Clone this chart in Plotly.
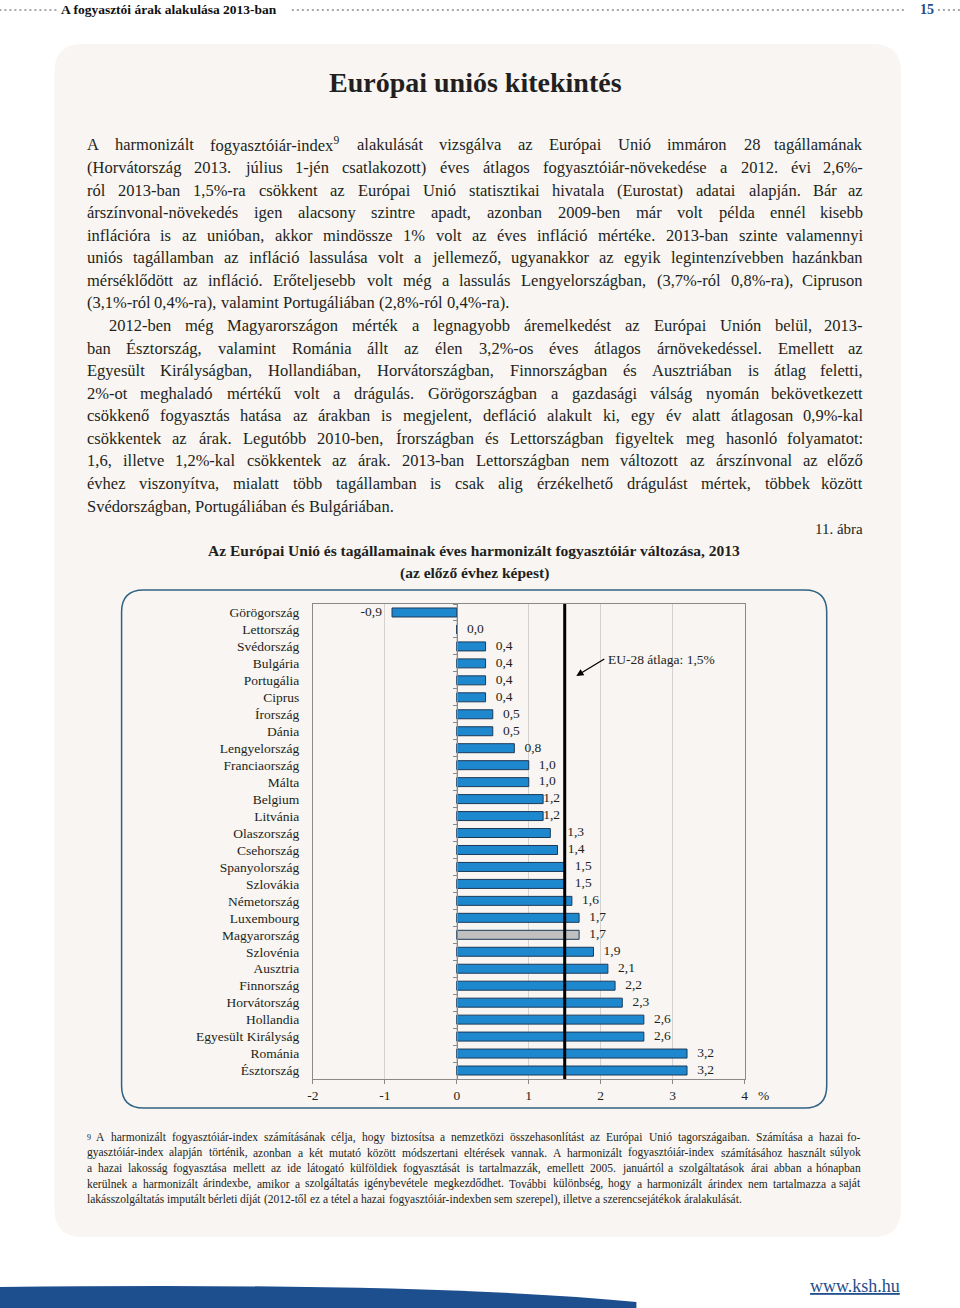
import unicodedata
import plotly.graph_objects as go

W, H = 960, 1308
SERIF = "Liberation Serif"
INK = "#231f20"
BLUE_DARK = "#1f4e8c"

countries = ["Görögország", "Lettország", "Svédország", "Bulgária", "Portugália", "Ciprus",
             "Írország", "Dánia", "Lengyelország", "Franciaország", "Málta", "Belgium",
             "Litvánia", "Olaszország", "Csehország", "Spanyolország", "Szlovákia",
             "Németország", "Luxembourg", "Magyarország", "Szlovénia", "Ausztria",
             "Finnország", "Horvátország", "Hollandia", "Egyesült Királyság", "Románia",
             "Észtország"]
values = [-0.9, 0.0, 0.4, 0.4, 0.4, 0.4, 0.5, 0.5, 0.8, 1.0, 1.0, 1.2, 1.2, 1.3, 1.4,
          1.5, 1.5, 1.6, 1.7, 1.7, 1.9, 2.1, 2.2, 2.3, 2.6, 2.6, 3.2, 3.2]
highlight = "Magyarország"
eu_avg = 1.5
x_ticks = [-2, -1, 0, 1, 2, 3, 4]
x_ticktext = ["-2", "-1", "0", "1", "2", "3", "4"]

body_lines = [
    "A harmonizált fogyasztóiár-index^9 alakulását vizsgálva az Európai Unió immáron 28 tagállamának",
    "(Horvátország 2013. július 1-jén csatlakozott) éves átlagos fogyasztóiár-növekedése a 2012. évi 2,6%-",
    "ról 2013-ban 1,5%-ra csökkent az Európai Unió statisztikai hivatala (Eurostat) adatai alapján. Bár az",
    "árszínvonal-növekedés igen alacsony szintre apadt, azonban 2009-ben már volt példa ennél kisebb",
    "inflációra is az unióban, akkor mindössze 1% volt az éves infláció mértéke. 2013-ban szinte valamennyi",
    "uniós tagállamban az infláció lassulása volt a jellemező, ugyanakkor az egyik legintenzívebben hazánkban",
    "mérséklődött az infláció. Erőteljesebb volt még a lassulás Lengyelországban, (3,7%-ról 0,8%-ra), Cipruson",
    "(3,1%-ról 0,4%-ra), valamint Portugáliában (2,8%-ról 0,4%-ra).",
    "2012-ben még Magyarországon mérték a legnagyobb áremelkedést az Európai Unión belül, 2013-",
    "ban Észtország, valamint Románia állt az élen 3,2%-os éves átlagos árnövekedéssel. Emellett az",
    "Egyesült Királyságban, Hollandiában, Horvátországban, Finnországban és Ausztriában is átlag feletti,",
    "2%-ot meghaladó mértékű volt a drágulás. Görögországban a gazdasági válság nyomán bekövetkezett",
    "csökkenő fogyasztás hatása az árakban is megjelent, defláció alakult ki, egy év alatt átlagosan 0,9%-kal",
    "csökkentek az árak. Legutóbb 2010-ben, Írországban és Lettországban figyeltek meg hasonló folyamatot:",
    "1,6, illetve 1,2%-kal csökkentek az árak. 2013-ban Lettországban nem változott az árszínvonal az előző",
    "évhez viszonyítva, mialatt több tagállamban is csak alig érzékelhető drágulást mértek, többek között",
    "Svédországban, Portugáliában és Bulgáriában.",
]
body_last = {7, 16}
body_indent = {8}

foot_lines = [
    "^9 A harmonizált fogyasztóiár-index számításának célja, hogy biztosítsa a nemzetközi összehasonlítást az Európai Unió tagországaiban. Számítása a hazai fo-",
    "gyasztóiár-index alapján történik, azonban a két mutató között módszertani eltérések vannak. A harmonizált fogyasztóiár-index számításához használt súlyok",
    "a hazai lakosság fogyasztása mellett az ide látogató külföldiek fogyasztását is tartalmazzák, emellett 2005. januártól a szolgáltatások árai abban a hónapban",
    "kerülnek a harmonizált árindexbe, amikor a szolgáltatás igénybevétele megkezdődhet. További különbség, hogy a harmonizált árindex nem tartalmazza a saját",
    "lakásszolgáltatás imputált bérleti díját (2012-től ez a tétel a hazai fogyasztóiár-indexben sem szerepel), illetve a szerencsejátékok áralakulását.",
]

# the photographed page comes out slightly squeezed sideways; undo that here
X_SHIFT, X_SCALE = 6.6, 0.988


def px(x):
    return (x - X_SHIFT) / X_SCALE / W


def py(y):
    return 1 - y / H


# Times / Liberation Serif advance widths (1/1000 em)
TW = dict(zip("abcdefghijklmnopqrstuvwxyz",
              [444, 500, 444, 500, 444, 333, 500, 500, 278, 278, 500, 278, 778, 500, 500,
               500, 500, 333, 389, 278, 500, 500, 722, 500, 500, 444]))
TW.update(dict(zip("ABCDEFGHIJKLMNOPQRSTUVWXYZ",
                   [722, 667, 667, 722, 611, 556, 722, 722, 333, 389, 722, 611, 889, 722,
                    722, 556, 722, 667, 556, 611, 722, 722, 944, 722, 722, 611])))
TW.update({c: 500 for c in "0123456789"})
TW.update({" ": 250, ",": 250, ".": 250, "-": 333, "%": 833, "(": 333, ")": 333,
           ":": 278, ";": 278})


def measure(word, size):
    w = 0
    for ch in word.replace("^9", ""):
        base = unicodedata.normalize("NFD", ch)[0]
        w += TW.get(base, 500)
    if "^9" in word:
        w += 350
    return w * size / 1000


def markup(word):
    return word.replace("^9", "<sup>9</sup>")


annotations = []


def add_text_block(lines, x0, x1, y0, step, size, last, indent=(), indent_px=0):
    for i, line in enumerate(lines):
        words = line.split(" ")
        left = x0 + (indent_px if i in indent else 0)
        y = y0 + i * step
        widths = [measure(w, size) for w in words]
        if i in last or len(words) == 1:
            gap = TW[" "] * size / 1000
        else:
            gap = (x1 - left - sum(widths)) / (len(words) - 1)
        x = left
        for j, (w, wd) in enumerate(zip(words, widths)):
            is_end = (i not in last) and j == len(words) - 1
            annotations.append(dict(
                x=px(x1 if is_end else x), y=py(y), xref="paper", yref="paper",
                text=markup(w), showarrow=False, borderpad=0,
                xanchor="right" if is_end else "left", yanchor="middle",
                font=dict(family=SERIF, size=size, color=INK)))
            x += wd + gap


def fit_size(lines, width, max_size):
    nat = max(measure(l, 1.0) for l in lines)
    return min(max_size, 0.985 * width / nat)


body_size = fit_size([l for i, l in enumerate(body_lines) if i not in body_last], 777, 16.5)
add_text_block(body_lines, 86, 863, 145, 22.57, body_size, body_last, body_indent, 22)
foot_size = fit_size(foot_lines[:-1], 775, 11.5)
add_text_block(foot_lines, 86, 861, 1137, 15.5, foot_size, {4})


def rrect(x0, y0, x1, y1, r):
    P = lambda x, y: f"{px(x):.5f},{py(y):.5f}"
    return (f"M {P(x0 + r, y0)} L {P(x1 - r, y0)} Q {P(x1, y0)} {P(x1, y0 + r)} "
            f"L {P(x1, y1 - r)} Q {P(x1, y1)} {P(x1 - r, y1)} L {P(x0 + r, y1)} "
            f"Q {P(x0, y1)} {P(x0, y1 - r)} L {P(x0, y0 + r)} Q {P(x0, y0)} {P(x0 + r, y0)} Z")


shapes = [
    dict(type="path", path=rrect(55, 44, 900, 1237, 28), xref="paper", yref="paper",
         fillcolor="#f8f5f2", line=dict(width=0), layer="below"),
    dict(type="path", path=rrect(122, 590, 826, 1108, 22), xref="paper", yref="paper",
         fillcolor="rgba(0,0,0,0)", line=dict(color="#2f6383", width=1.5), layer="below"),
]
# header dotted rules
for a, b in [(0, 57), (292, 906), (937, 960)]:
    shapes.append(dict(type="line", xref="paper", yref="paper", x0=px(a), x1=px(b),
                       y0=py(10), y1=py(10), line=dict(color="#a8a8a8", width=2, dash="2px,3px")))
# bottom swoosh
sw = (f"M {px(0):.5f},{py(1287):.5f} Q {px(430):.5f},{py(1282):.5f} {px(636):.5f},{py(1302):.5f} "
      f"L {px(636):.5f},{py(1308):.5f} L {px(0):.5f},{py(1308):.5f} Z")
shapes.append(dict(type="path", path=sw, xref="paper", yref="paper",
                   fillcolor="#1d4f8f", line=dict(width=0)))

# plot area
xd = [px(313), px(744)]
yd = [py(1079), py(604)]
zero_pos = xd[0] + (xd[1] - xd[0]) * (0 - x_ticks[0]) / (x_ticks[-1] - x_ticks[0])

shapes.append(dict(type="line", xref="x", yref="paper", x0=eu_avg, x1=eu_avg,
                   y0=yd[0], y1=yd[1], line=dict(color="black", width=3)))

fig = go.Figure()
fig.add_bar(y=countries, x=values, orientation="h", width=0.53,
            marker=dict(color=["#c0c0c0" if c == highlight else "#1e88cf" for c in countries],
                        line=dict(color="#1c3a58", width=1)),
            hoverinfo="skip", showlegend=False)

# label padding (in non-breaking spaces); the 1,2 / 1,3 labels sit around the EU line
labels = [f"{v:.1f}".replace(".", ",") for v in values]
pads = [0 if l == "1,2" else 5 if l == "1,3" else 3 for l in labels]
nb = "\u00a0"
fig.add_scatter(y=countries, x=values, mode="text",
                text=[(l + nb * p) if v < 0 else (nb * p + l) for l, v, p in zip(labels, values, pads)],
                textposition=["middle left" if v < 0 else "middle right" for v in values],
                textfont=dict(family=SERIF, size=13.5, color=INK),
                cliponaxis=False, hoverinfo="skip", showlegend=False)
# carrier for the zero-line axis with category ticks
fig.add_scatter(y=countries, x=values, yaxis="y2", mode="markers",
                marker=dict(opacity=0), hoverinfo="skip", showlegend=False)

annotations += [
    dict(x=px(61), y=py(10), xref="paper", yref="paper", text="<b>A fogyasztói árak alakulása 2013-ban</b>",
         showarrow=False, xanchor="left", yanchor="middle", borderpad=0,
         font=dict(family=SERIF, size=13.5, color="#111")),
    dict(x=px(926), y=py(10), xref="paper", yref="paper", text="<b>15</b>",
         showarrow=False, xanchor="center", yanchor="middle",
         font=dict(family=SERIF, size=14, color=BLUE_DARK)),
    dict(x=px(475), y=py(83), xref="paper", yref="paper", text="<b>Európai uniós kitekintés</b>",
         showarrow=False, xanchor="center", yanchor="middle",
         font=dict(family=SERIF, size=28, color=INK)),
    dict(x=px(863), y=py(529), xref="paper", yref="paper", text="11. ábra",
         showarrow=False, xanchor="right", yanchor="middle", borderpad=0,
         font=dict(family=SERIF, size=15, color=INK)),
    dict(x=px(474), y=py(551), xref="paper", yref="paper",
         text="<b>Az Európai Unió és tagállamainak éves harmonizált fogyasztóiár változása, 2013</b>",
         showarrow=False, xanchor="center", yanchor="middle",
         font=dict(family=SERIF, size=15.5, color=INK)),
    dict(x=px(474), y=py(573), xref="paper", yref="paper", text="<b>(az előző évhez képest)</b>",
         showarrow=False, xanchor="center", yanchor="middle",
         font=dict(family=SERIF, size=15.5, color=INK)),
    # label with arrow pointing at the EU-average line
    dict(x=px(576), y=py(676), xref="paper", yref="paper", text="EU-28 átlaga: 1,5%",
         showarrow=True, ax=28, ay=-17, xanchor="left", yanchor="middle", borderpad=3,
         arrowhead=2, arrowsize=1.1, arrowwidth=1.3, arrowcolor="black",
         font=dict(family=SERIF, size=13.5, color=INK)),
    dict(x=px(756), y=py(1095), xref="paper", yref="paper", text="%",
         showarrow=False, xanchor="left", yanchor="middle", borderpad=0,
         font=dict(family=SERIF, size=13.5, color=INK)),
    dict(x=px(900), y=py(1286), xref="paper", yref="paper", text="<u>www.ksh.hu</u>",
         showarrow=False, xanchor="right", yanchor="middle", borderpad=0,
         font=dict(family=SERIF, size=18, color=BLUE_DARK)),
]

fig.update_layout(
    width=W, height=H, margin=dict(l=0, r=0, t=0, b=0),
    paper_bgcolor="white", plot_bgcolor="rgba(0,0,0,0)",
    font=dict(family=SERIF, color=INK),
    shapes=shapes, annotations=annotations, bargap=0.47,
    xaxis=dict(domain=xd, range=[x_ticks[0], x_ticks[-1]], tickvals=x_ticks, ticktext=x_ticktext,
               showgrid=True, gridcolor="#d4d2d0", gridwidth=1, zeroline=False,
               showline=True, mirror=True, linecolor="#8a8a8a", linewidth=1,
               ticks="outside", ticklen=4, tickcolor="#8a8a8a",
               tickfont=dict(family=SERIF, size=13.5, color=INK), fixedrange=True),
    yaxis=dict(domain=yd, type="category", categoryorder="array", categoryarray=countries,
               range=[len(countries) - 0.5, -0.5], showgrid=False, zeroline=False,
               showline=True, mirror=True, linecolor="#8a8a8a", ticks="",
               ticklabelstandoff=10,
               tickfont=dict(family=SERIF, size=13.5, color=INK), fixedrange=True),
    yaxis2=dict(overlaying="y", anchor="free", position=zero_pos, side="left",
                type="category", categoryorder="array", categoryarray=countries,
                range=[len(countries) - 0.5, -0.5], showgrid=False, zeroline=False,
                showline=True, linecolor="#8a8a8a", linewidth=1.2,
                ticks="outside", tickson="boundaries", ticklen=4, tickcolor="#8a8a8a",
                showticklabels=False, fixedrange=True),
)

fig.write_html("out.html", config={"displayModeBar": False},
               post_script="document.body.style.margin='0px';"
                           "document.documentElement.style.overflow='hidden';"
                           "document.body.style.overflow='hidden';")
